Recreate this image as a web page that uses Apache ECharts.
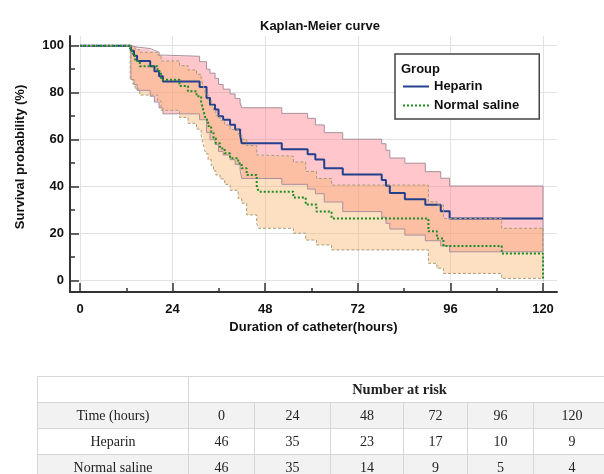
<!DOCTYPE html>
<html>
<head>
<meta charset="utf-8">
<script src="https://cdn.jsdelivr.net/npm/echarts@6/dist/echarts.min.js"></script>
<style>
  body { margin: 0; background: #fff; overflow: hidden; }
  #chart { width: 604px; height: 474px; }
  #risk {
    position: absolute; left: 37px; top: 376px; width: 573px;
    border-collapse: collapse; table-layout: fixed;
    font-family: 'Liberation Serif', serif; font-size: 14px; color: #222;
  }
  #risk td { border: 1px solid #d6d6d6; text-align: center; padding: 0; height: 25px; }
  #risk tr.grey td { background: #f2f2f2; }
  #risk td.head { font-weight: bold; font-size: 14.5px; }
</style>
</head>
<body>
<div id="chart"></div>
<table id="risk"></table>
<script>
// axis ticks
const xTicks = [0, 24, 48, 72, 96, 120]
const xMinor = [12, 36, 60, 84, 108]
const yTicks = [0, 20, 40, 60, 80, 100]
const yMinor = [10, 30, 50, 70, 90]

// Heparin: time, survival, 95% CI lower / upper
const hepTime = [0, 13.2, 14.0, 14.8, 18.2, 19.3, 20.5, 21.5, 31.0, 32.8, 33.7, 35.0, 35.9, 37.1, 38.9, 40.2, 41.5, 41.9, 52.3, 59.0, 61.0, 63.3, 68.1, 78.2, 79.3, 80.3, 84.2, 89.5, 93.5, 95.8, 120]
const hepSurv = [100, 97.8, 95.7, 93.5, 91.3, 89.1, 87.0, 84.8, 82.4, 77.7, 74.9, 72.8, 70.0, 68.5, 66.4, 64.3, 62.1, 58.5, 55.9, 53.8, 51.6, 47.8, 45.2, 42.9, 40.4, 37.3, 34.7, 32.3, 29.6, 26.5, 26.5]
const hepLow = [100, 85.6, 83.5, 81.0, 78.5, 76.0, 73.5, 71.0, 68.5, 63.0, 60.0, 58.0, 55.0, 53.5, 51.5, 49.5, 47.0, 43.5, 41.0, 39.0, 37.0, 33.5, 29.4, 27.0, 24.4, 22.0, 19.4, 17.0, 14.8, 12.3, 12.3]
const hepUpp = [100, 99.7, 99.4, 98.8, 98.0, 97.2, 96.0, 95.5, 93.2, 90.0, 88.3, 86.1, 83.5, 81.5, 79.5, 77.5, 75.5, 73.6, 71.2, 69.1, 66.3, 63.0, 60.2, 58.3, 55.5, 52.2, 50.0, 46.4, 43.6, 40.3, 40.3]

// Normal saline (last point is the drop at 120 h, not part of the CI band)
const nsTime = [0, 13.0, 13.7, 14.3, 15.5, 20.1, 21.0, 25.8, 28.0, 30.2, 31.4, 31.8, 32.2, 32.6, 33.2, 34.0, 34.6, 35.2, 36.3, 37.5, 38.9, 41.0, 41.9, 43.2, 45.8, 46.3, 55.3, 58.5, 61.3, 65.2, 90.3, 92.5, 94.2, 109.3, 120, 120]
const nsSurv = [100, 97.8, 95.7, 93.5, 91.3, 89.1, 85.5, 82.9, 80.6, 78.5, 76.3, 73.5, 71.0, 68.5, 65.8, 63.2, 60.7, 58.5, 56.3, 54.2, 52.1, 50.0, 47.8, 45.0, 40.4, 37.9, 35.4, 32.4, 29.4, 26.5, 21.0, 18.0, 14.8, 11.6, 11.6, 0]
const nsLow = [100, 85.6, 83.7, 81.5, 79.0, 76.5, 72.5, 69.5, 67.0, 64.5, 62.0, 59.0, 56.5, 54.0, 51.5, 49.0, 46.8, 45.0, 43.3, 41.0, 38.5, 35.0, 33.0, 28.0, 24.4, 22.3, 20.2, 17.3, 15.2, 13.1, 7.4, 5.3, 3.1, 1.0, 1.0]
const nsUpp = [100, 99.7, 99.2, 98.3, 97.2, 96.0, 93.5, 91.5, 89.7, 87.8, 86.0, 83.6, 81.4, 79.2, 76.8, 74.5, 72.3, 70.2, 68.2, 66.2, 64.3, 62.3, 60.2, 57.5, 53.5, 53.0, 50.5, 46.5, 43.5, 40.7, 33.6, 32.2, 26.5, 22.3, 22.3]

// number at risk table
const riskTimes = [0, 24, 48, 72, 96, 120]
const riskHeparin = [46, 35, 23, 17, 10, 9]
const riskSaline = [46, 35, 14, 9, 5, 4]

const font = 'Liberation Sans'
const pairs = (t, v) => v.map((y, i) => [t[i], y])
const last = a => a[a.length - 1]

const chart = echarts.init(document.getElementById('chart'))

const tickAxis = (vals, len) => ({
  show: true,
  inside: true,
  length: len,
  customValues: vals,
  lineStyle: { color: '#333', width: 1.5 },
})

/**
 * 置信区间色带：一个阶梯多边形
 */
function band(time, low, upp, color) {
  const rows = low.map((l, i) => [time[i], l, upp[i]])
  return {
    type: 'custom',
    silent: true,
    data: rows,
    encode: { x: 0, y: [1, 2] },
    renderItem: (params, api) => {
      if (params.dataIndex !== 0) return
      const pts = []
      rows.forEach((r, i) => {
        if (i > 0) pts.push(api.coord([r[0], rows[i - 1][2]]))
        pts.push(api.coord([r[0], r[2]]))
      })
      for (let i = rows.length - 1; i >= 0; i--) {
        pts.push(api.coord([rows[i][0], rows[i][1]]))
        if (i > 0) pts.push(api.coord([rows[i][0], rows[i - 1][1]]))
      }
      return { type: 'polygon', shape: { points: pts }, style: { fill: color } }
    },
  }
}

function border(time, vals, style) {
  return { type: 'line', step: 'end', symbol: 'none', silent: true, data: pairs(time, vals), lineStyle: style }
}

const hepBorder = { color: '#a8909c', width: 1 }
const nsBorder = { color: '#a89c78', width: 1, type: [3, 2] }

const option = {
  animation: false,
  title: {
    text: 'Kaplan-Meier curve',
    left: 255,
    top: 15,
    textStyle: { fontFamily: font, fontWeight: 'bold', fontSize: 13, color: '#111' },
  },
  grid: { left: 70, top: 36, width: 487, height: 256 },
  legend: {
    data: ['Heparin', 'Normal saline'],
    orient: 'vertical',
    left: 395,
    top: 54,
    padding: [26, 20, 7, 7],
    itemWidth: 26,
    itemHeight: 12,
    itemGap: 6,
    borderColor: '#444',
    borderWidth: 1.5,
    backgroundColor: '#fff',
    itemStyle: { opacity: 0 },
    textStyle: { fontFamily: font, fontWeight: 'bold', fontSize: 13, color: '#111' },
  },
  graphic: [
    {
      type: 'text',
      left: 401,
      top: 63,
      z: 100,
      style: { text: 'Group', font: 'bold 13px "Liberation Sans"', fill: '#111' },
    },
  ],
  xAxis: [
    {
      type: 'value',
      min: -2.59,
      max: 123.63,
      position: 'bottom',
      name: 'Duration of catheter(hours)',
      nameLocation: 'middle',
      nameGap: 28,
      nameTextStyle: { fontFamily: font, fontWeight: 'bold', fontSize: 13, color: '#111' },
      axisLine: { onZero: false, lineStyle: { color: '#333', width: 2 } },
      axisTick: tickAxis(xTicks, 9),
      axisLabel: {
        customValues: xTicks,
        margin: 11,
        fontFamily: font, fontWeight: 'bold', fontSize: 13, color: '#111',
      },
      splitLine: { show: true, lineStyle: { color: '#e2e2e2', width: 1 } },
    },
    {
      // minor ticks
      type: 'value',
      min: -2.59,
      max: 123.63,
      position: 'bottom',
      axisLine: { show: false, onZero: false },
      axisTick: tickAxis(xMinor, 4),
      axisLabel: { show: false },
      splitLine: { show: false },
    },
  ],
  yAxis: [
    {
      type: 'value',
      min: -4.81,
      max: 104.13,
      position: 'left',
      name: 'Survival probability (%)',
      nameLocation: 'middle',
      nameGap: 43,
      nameTextStyle: { fontFamily: font, fontWeight: 'bold', fontSize: 13, color: '#111', padding: [0, 0, 0, 14] },
      axisLine: { show: true, onZero: false, lineStyle: { color: '#333', width: 2 } },
      axisTick: tickAxis(yTicks, 9),
      axisLabel: {
        customValues: yTicks,
        margin: 6,
        fontFamily: font, fontWeight: 'bold', fontSize: 13, color: '#111',
      },
      splitLine: { show: true, lineStyle: { color: '#e2e2e2', width: 1 } },
    },
    {
      type: 'value',
      min: -4.81,
      max: 104.13,
      position: 'left',
      axisLine: { show: false, onZero: false },
      axisTick: tickAxis(yMinor, 5),
      axisLabel: { show: false },
      splitLine: { show: false },
    },
  ],
  series: [
    // heparin CI
    band(hepTime, hepLow, hepUpp, 'rgba(255,120,130,0.42)'),
    border(hepTime, hepLow, hepBorder),
    border(hepTime, hepUpp, hepBorder),
    {
      type: 'line', symbol: 'none', silent: true,
      data: [[last(hepTime), last(hepUpp)], [last(hepTime), last(hepLow)]],
      lineStyle: hepBorder,
    },
    {
      name: 'Heparin',
      type: 'line', step: 'end', symbol: 'none',
      data: pairs(hepTime, hepSurv),
      itemStyle: { color: '#22408c' },
      lineStyle: { color: '#22408c', width: 2 },
    },
    // normal saline CI
    band(nsTime, nsLow, nsUpp, 'rgba(250,180,110,0.42)'),
    border(nsTime, nsLow, nsBorder),
    border(nsTime, nsUpp, nsBorder),
    {
      type: 'line', symbol: 'none', silent: true,
      data: [[nsTime[nsUpp.length - 1], last(nsUpp)], [nsTime[nsLow.length - 1], last(nsLow)]],
      lineStyle: nsBorder,
    },
    {
      name: 'Normal saline',
      type: 'line', step: 'end', symbol: 'none',
      data: pairs(nsTime, nsSurv),
      itemStyle: { color: '#1c8c24' },
      lineStyle: { color: '#1c8c24', width: 2, type: [2, 2] },
    },
  ],
}
chart.setOption(option)

// table under the chart
const widths = [151, 66, 76, 73, 64, 66, 77]
let html = '<colgroup>' + widths.map(w => '<col style="width:' + w + 'px">').join('') + '</colgroup>'
html += '<tr><td></td><td class="head" colspan="' + riskTimes.length + '">Number at risk</td></tr>'
const row = (label, vals, cls) =>
  '<tr class="' + cls + '"><td>' + label + '</td>' + vals.map(v => '<td>' + v + '</td>').join('') + '</tr>'
html += row('Time (hours)', riskTimes, 'grey')
html += row('Heparin', riskHeparin, '')
html += row('Normal saline', riskSaline, 'grey')
document.getElementById('risk').innerHTML = html
</script>
</body>
</html>
